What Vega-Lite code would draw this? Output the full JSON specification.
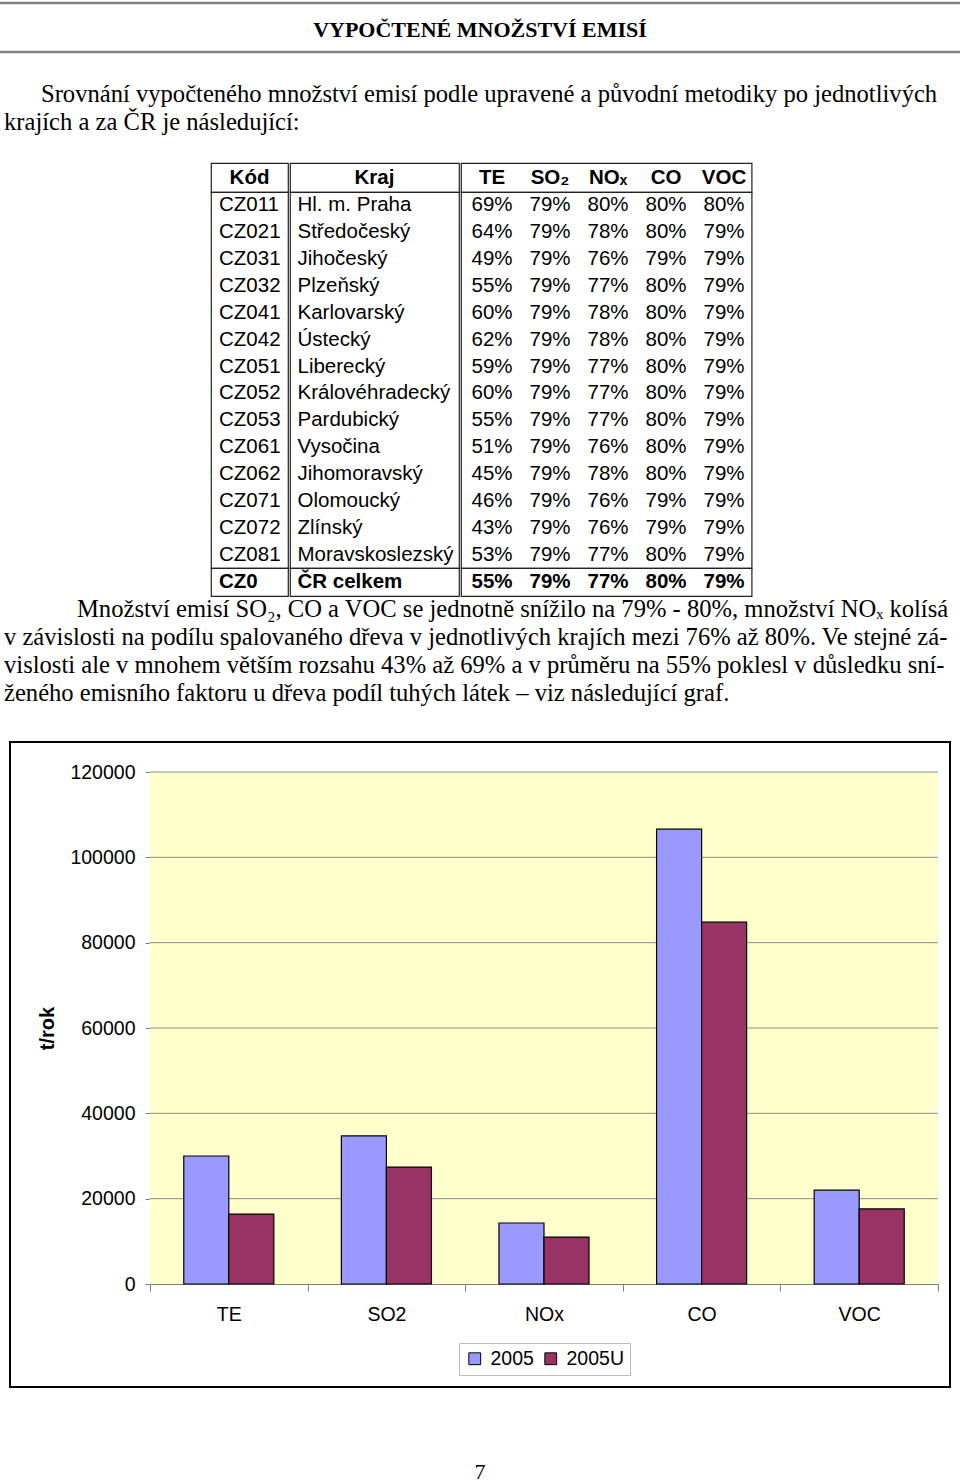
{
  "$schema": "https://vega.github.io/schema/vega-lite/v6.json",
  "padding": 0,
  "background": "white",
  "config": {
    "view": {"stroke": null},
    "concat": {"spacing": 0},
    "text": {"font": "Liberation Sans", "color": "black"}
  },
  "datasets": {
    "table": [
      {"kod": "CZ011", "kraj": "Hl. m. Praha", "TE": 0.69, "SO2": 0.79, "NOx": 0.80, "CO": 0.80, "VOC": 0.80},
      {"kod": "CZ021", "kraj": "Středočeský", "TE": 0.64, "SO2": 0.79, "NOx": 0.78, "CO": 0.80, "VOC": 0.79},
      {"kod": "CZ031", "kraj": "Jihočeský", "TE": 0.49, "SO2": 0.79, "NOx": 0.76, "CO": 0.79, "VOC": 0.79},
      {"kod": "CZ032", "kraj": "Plzeňský", "TE": 0.55, "SO2": 0.79, "NOx": 0.77, "CO": 0.80, "VOC": 0.79},
      {"kod": "CZ041", "kraj": "Karlovarský", "TE": 0.60, "SO2": 0.79, "NOx": 0.78, "CO": 0.80, "VOC": 0.79},
      {"kod": "CZ042", "kraj": "Ústecký", "TE": 0.62, "SO2": 0.79, "NOx": 0.78, "CO": 0.80, "VOC": 0.79},
      {"kod": "CZ051", "kraj": "Liberecký", "TE": 0.59, "SO2": 0.79, "NOx": 0.77, "CO": 0.80, "VOC": 0.79},
      {"kod": "CZ052", "kraj": "Královéhradecký", "TE": 0.60, "SO2": 0.79, "NOx": 0.77, "CO": 0.80, "VOC": 0.79},
      {"kod": "CZ053", "kraj": "Pardubický", "TE": 0.55, "SO2": 0.79, "NOx": 0.77, "CO": 0.80, "VOC": 0.79},
      {"kod": "CZ061", "kraj": "Vysočina", "TE": 0.51, "SO2": 0.79, "NOx": 0.76, "CO": 0.80, "VOC": 0.79},
      {"kod": "CZ062", "kraj": "Jihomoravský", "TE": 0.45, "SO2": 0.79, "NOx": 0.78, "CO": 0.80, "VOC": 0.79},
      {"kod": "CZ071", "kraj": "Olomoucký", "TE": 0.46, "SO2": 0.79, "NOx": 0.76, "CO": 0.79, "VOC": 0.79},
      {"kod": "CZ072", "kraj": "Zlínský", "TE": 0.43, "SO2": 0.79, "NOx": 0.76, "CO": 0.79, "VOC": 0.79},
      {"kod": "CZ081", "kraj": "Moravskoslezský", "TE": 0.53, "SO2": 0.79, "NOx": 0.77, "CO": 0.80, "VOC": 0.79},
      {"kod": "CZ0", "kraj": "ČR celkem", "TE": 0.55, "SO2": 0.79, "NOx": 0.77, "CO": 0.80, "VOC": 0.79}
    ],
    "bars": [
      {"pol": "TE", "year": "2005", "t": 30000},
      {"pol": "TE", "year": "2005U", "t": 16400},
      {"pol": "SO2", "year": "2005", "t": 34700},
      {"pol": "SO2", "year": "2005U", "t": 27400},
      {"pol": "NOx", "year": "2005", "t": 14300},
      {"pol": "NOx", "year": "2005U", "t": 11000},
      {"pol": "CO", "year": "2005", "t": 106600},
      {"pol": "CO", "year": "2005U", "t": 84800},
      {"pol": "VOC", "year": "2005", "t": 22000},
      {"pol": "VOC", "year": "2005U", "t": 17600}
    ],
    "grid": [{"g": 20000}, {"g": 40000}, {"g": 60000}, {"g": 80000}, {"g": 100000}, {"g": 120000}]
  },
  "spacing": 0,
  "vconcat": [
    {
      "width": 960, "height": 55,
      "layer": [
        {
          "data": {"values": [{"line": "top"}, {"line": "bottom"}]},
          "mark": {"type": "tick", "orient": "horizontal", "thickness": 2.5, "size": 960, "color": "#7f7f7f", "opacity": 1},
          "encoding": {"y": {"field": "line", "type": "nominal", "scale": {"type": "point", "domain": ["top", "bottom"], "range": [3, 52], "padding": 0}, "axis": null}}
        },
        {
          "data": {"values": [{"t": "VYPOČTENÉ MNOŽSTVÍ EMISÍ"}]},
          "mark": {"type": "text", "font": "Liberation Serif", "fontSize": 22, "fontWeight": "bold", "baseline": "middle", "dy": 2},
          "encoding": {"text": {"field": "t"}}
        }
      ]
    },
    {
      "width": 960, "height": 106.4,
      "data": {"values": [
        {"line": 1, "kind": "first", "text": "Srovnání vypočteného množství emisí podle upravené a původní metodiky po jednotlivých"},
        {"line": 2, "kind": "cont", "text": "krajích a za ČR je následující:"}
      ]},
      "mark": {"type": "text", "font": "Liberation Serif", "fontSize": 24.6, "align": "left", "baseline": "middle"},
      "encoding": {
        "x": {"field": "kind", "type": "nominal", "scale": {"type": "point", "domain": ["cont", "first"], "range": [4, 41], "padding": 0}, "axis": null},
        "y": {"field": "line", "type": "ordinal", "scale": {"type": "point", "range": [40, 68], "padding": 0}, "axis": null},
        "text": {"field": "text"}
      }
    },
    {
      "spacing": 0,
      "hconcat": [
        {"width": 209.4, "height": 10, "data": {"values": [{}]}, "mark": {"type": "text", "text": ""}},
        {
          "bounds": "flush", "spacing": 0,
          "vconcat": [
            {"width": 77, "height": 29, "view": {"stroke": "#222", "strokeWidth": 1.2},
             "data": {"values": [{"h": "Kód"}]},
             "mark": {"type": "text", "fontSize": 20.5, "fontWeight": "bold", "baseline": "middle"},
             "encoding": {"text": {"field": "h"}}},
            {"width": 77, "height": 376, "view": {"stroke": "#222", "strokeWidth": 1.2},
             "data": {"name": "table"},
             "transform": [{"filter": "datum.kod != 'CZ0'"}],
             "mark": {"type": "text", "fontSize": 20.5, "align": "left", "baseline": "middle", "dx": -30.5},
             "encoding": {"y": {"field": "kod", "type": "nominal", "scale": {"type": "point", "padding": 0.5}, "axis": null}, "text": {"field": "kod"}}},
            {"width": 77, "height": 28, "view": {"stroke": "#222", "strokeWidth": 1.2},
             "data": {"name": "table"},
             "transform": [{"filter": "datum.kod == 'CZ0'"}],
             "mark": {"type": "text", "fontSize": 20.5, "fontWeight": "bold", "align": "left", "baseline": "middle", "dx": -30.5},
             "encoding": {"text": {"field": "kod"}}}
          ]
        },
        {
          "bounds": "flush", "spacing": 0,
          "vconcat": [
            {"width": 169, "height": 29, "view": {"stroke": "#222", "strokeWidth": 1.2},
             "data": {"values": [{"h": "Kraj"}]},
             "mark": {"type": "text", "fontSize": 20.5, "fontWeight": "bold", "baseline": "middle"},
             "encoding": {"text": {"field": "h"}}},
            {"width": 169, "height": 376, "view": {"stroke": "#222", "strokeWidth": 1.2},
             "data": {"name": "table"},
             "transform": [{"filter": "datum.kod != 'CZ0'"}],
             "mark": {"type": "text", "fontSize": 20.5, "align": "left", "baseline": "middle", "dx": -77},
             "encoding": {"y": {"field": "kod", "type": "nominal", "scale": {"type": "point", "padding": 0.5}, "axis": null}, "text": {"field": "kraj"}}},
            {"width": 169, "height": 28, "view": {"stroke": "#222", "strokeWidth": 1.2},
             "data": {"name": "table"},
             "transform": [{"filter": "datum.kod == 'CZ0'"}],
             "mark": {"type": "text", "fontSize": 20.5, "fontWeight": "bold", "align": "left", "baseline": "middle", "dx": -77},
             "encoding": {"text": {"field": "kraj"}}}
          ]
        },
        {
          "bounds": "flush", "spacing": 0,
          "vconcat": [
            {"width": 290.6, "height": 29, "view": {"stroke": "#222", "strokeWidth": 1.2},
             "data": {"values": [{"col": "TE", "lab": "TE"}, {"col": "SO2", "lab": "SO₂"}, {"col": "NOx", "lab": "NOₓ"}, {"col": "CO", "lab": "CO"}, {"col": "VOC", "lab": "VOC"}]},
             "mark": {"type": "text", "fontSize": 20.5, "fontWeight": "bold", "baseline": "middle"},
             "encoding": {"x": {"field": "col", "type": "nominal", "scale": {"type": "point", "domain": ["TE", "SO2", "NOx", "CO", "VOC"], "range": [31, 263], "padding": 0}, "axis": null}, "text": {"field": "lab"}}},
            {"width": 290.6, "height": 376, "view": {"stroke": "#222", "strokeWidth": 1.2},
             "data": {"name": "table"},
             "transform": [{"filter": "datum.kod != 'CZ0'"}, {"fold": ["TE", "SO2", "NOx", "CO", "VOC"], "as": ["col", "value"]}],
             "mark": {"type": "text", "fontSize": 20.5, "baseline": "middle"},
             "encoding": {
               "x": {"field": "col", "type": "nominal", "scale": {"type": "point", "domain": ["TE", "SO2", "NOx", "CO", "VOC"], "range": [31, 263], "padding": 0}, "axis": null},
               "y": {"field": "kod", "type": "nominal", "scale": {"type": "point", "padding": 0.5}, "axis": null},
               "text": {"field": "value", "type": "quantitative", "format": ".0%"}}},
            {"width": 290.6, "height": 28, "view": {"stroke": "#222", "strokeWidth": 1.2},
             "data": {"name": "table"},
             "transform": [{"filter": "datum.kod == 'CZ0'"}, {"fold": ["TE", "SO2", "NOx", "CO", "VOC"], "as": ["col", "value"]}],
             "mark": {"type": "text", "fontSize": 20.5, "fontWeight": "bold", "baseline": "middle"},
             "encoding": {
               "x": {"field": "col", "type": "nominal", "scale": {"type": "point", "domain": ["TE", "SO2", "NOx", "CO", "VOC"], "range": [31, 263], "padding": 0}, "axis": null},
               "text": {"field": "value", "type": "quantitative", "format": ".0%"}}}
          ]
        }
      ]
    },
    {
      "width": 960, "height": 143.4,
      "data": {"values": [
        {"line": 1, "kind": "first", "text": "Množství emisí SO₂, CO a VOC se jednotně snížilo na 79% - 80%, množství NOₓ kolísá"},
        {"line": 2, "kind": "cont", "text": "v závislosti na podílu spalovaného dřeva v jednotlivých krajích mezi 76% až 80%. Ve stejné zá-"},
        {"line": 3, "kind": "cont", "text": "vislosti ale v mnohem větším rozsahu 43% až 69% a v průměru na 55% poklesl v důsledku sní-"},
        {"line": 4, "kind": "cont", "text": "ženého emisního faktoru u dřeva podíl tuhých látek – viz následující graf."}
      ]},
      "mark": {"type": "text", "font": "Liberation Serif", "fontSize": 24.6, "align": "left", "baseline": "middle"},
      "encoding": {
        "x": {"field": "kind", "type": "nominal", "scale": {"type": "point", "domain": ["cont", "first"], "range": [4, 77], "padding": 0}, "axis": null},
        "y": {"field": "line", "type": "ordinal", "scale": {"type": "point", "range": [13.4, 97.4], "padding": 0}, "axis": null},
        "text": {"field": "text"}
      }
    },
    {
      "bounds": "flush",
      "spacing": 0,
      "hconcat": [
        {"width": 10, "height": 10, "data": {"values": [{}]}, "mark": {"type": "text", "text": ""}},
        {
          "width": 940, "height": 645,
          "view": {"stroke": "#000", "strokeWidth": 2, "fill": "white"},
          "layer": [
            {
              "data": {"values": [{}]},
              "mark": {"type": "rect", "color": "#FFFFCC"},
              "encoding": {
                "x": {"datum": 0, "type": "quantitative", "scale": {"domain": [0, 1], "range": [140, 928]}, "axis": null},
                "x2": {"datum": 1},
                "y": {"datum": 0, "type": "quantitative"},
                "y2": {"datum": 120000}
              }
            },
            {
              "data": {"name": "grid"},
              "mark": {"type": "rule", "color": "#8c8c8c", "strokeWidth": 1},
              "encoding": {
                "x": {"datum": 0, "type": "quantitative", "scale": {"domain": [0, 1], "range": [140, 928]}, "axis": null},
                "x2": {"datum": 1},
                "y": {"field": "g", "type": "quantitative"}
              }
            },
            {
              "data": {"name": "bars"},
              "mark": {"type": "bar", "stroke": "black", "strokeWidth": 1.2},
              "encoding": {
                "x": {"field": "pol", "type": "nominal", "sort": ["TE", "SO2", "NOx", "CO", "VOC"],
                      "scale": {"range": [140, 928], "paddingInner": 0, "paddingOuter": 0},
                      "axis": {"orient": "bottom", "offset": -103, "title": null, "tickBand": "extent", "domainColor": "#808080", "tickColor": "#808080", "tickSize": 7, "labelFontSize": 19.5, "labelFont": "Liberation Sans", "labelColor": "black", "labelPadding": 14, "labelAngle": 0, "grid": false}},
                "xOffset": {"field": "year", "type": "nominal", "scale": {"paddingInner": 0, "paddingOuter": 0.75}},
                "y": {"field": "t", "type": "quantitative",
                      "scale": {"domain": [0, 120000], "range": [542, 30], "nice": false},
                      "axis": {"title": "t/rok", "values": [0, 20000, 40000, 60000, 80000, 100000, 120000], "format": "d", "offset": -140, "grid": false, "domainColor": "#808080", "tickColor": "#808080", "tickSize": 5, "labelFontSize": 19.5, "labelFont": "Liberation Sans", "labelColor": "black", "labelPadding": 10, "titleFont": "Liberation Sans", "titleFontSize": 20, "titleFontWeight": "bold", "titleColor": "black", "titlePadding": 12}},
                "color": {"field": "year", "type": "nominal",
                          "scale": {"domain": ["2005", "2005U"], "range": ["#9999FF", "#993366"]},
                          "legend": {"orient": "none", "legendX": 459, "legendY": 1343, "direction": "horizontal", "gridAlign": "none", "title": null, "strokeColor": "#bbb", "padding": 6, "symbolType": "square", "symbolSize": 140, "symbolStrokeColor": "black", "symbolStrokeWidth": 1, "labelFontSize": 19.5, "labelFont": "Liberation Sans", "labelColor": "black", "columnPadding": 7, "labelOffset": 6}}
              }
            }
          ],
          "resolve": {"scale": {"x": "independent"}, "axis": {"x": "independent"}}
        }
      ]
    },
    {
      "width": 960, "height": 98,
      "data": {"values": [{"t": "7"}]},
      "mark": {"type": "text", "font": "Liberation Serif", "fontSize": 22, "baseline": "alphabetic", "dy": 42},
      "encoding": {"text": {"field": "t"}}
    }
  ]
}
